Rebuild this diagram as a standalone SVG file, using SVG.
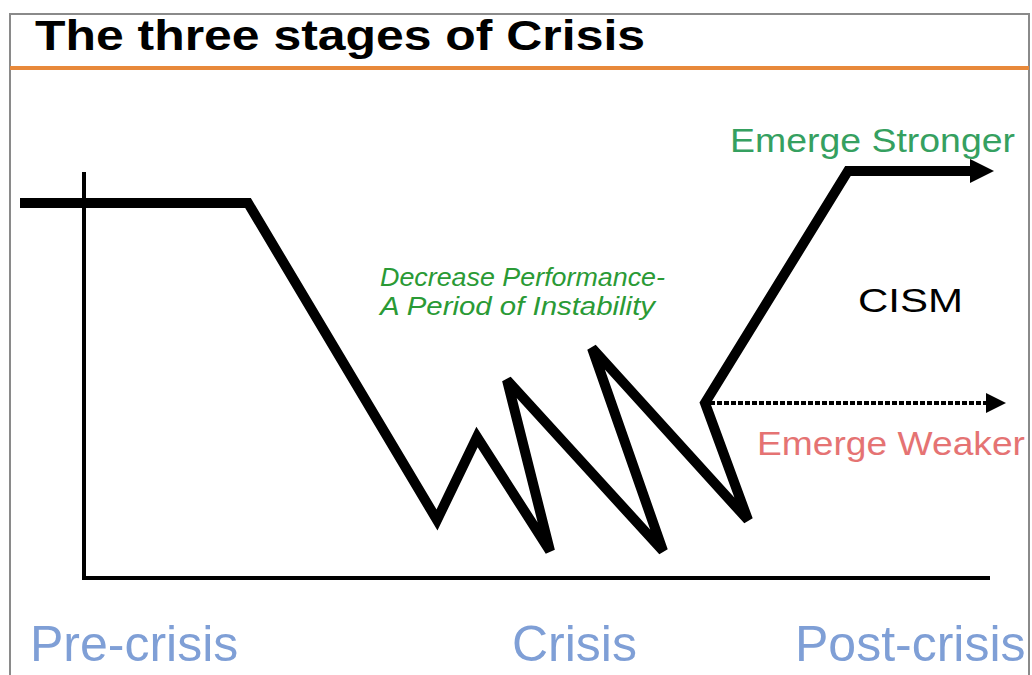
<svg xmlns="http://www.w3.org/2000/svg" width="1032" height="675" viewBox="0 0 1032 675">
<defs>
<style>
.sans{font-family:"Liberation Sans",Arial,sans-serif}
.stage{font-size:50px;fill:#7f9fd6}
.main{fill:none;stroke:#000;stroke-width:10;stroke-linejoin:miter;stroke-miterlimit:2.5}
.axis{fill:none;stroke:#000;stroke-width:4}
</style>
<marker id="ah" viewBox="0 0 10 10" refX="0" refY="5" markerWidth="2.4" markerHeight="2.4" orient="auto" markerUnits="strokeWidth">
<path d="M0,0 L10,5 L0,10 Z" fill="#000"/>
</marker>
<marker id="ahs" viewBox="0 0 10 10" refX="0" refY="5" markerWidth="5" markerHeight="5" orient="auto" markerUnits="strokeWidth">
<path d="M0,0 L10,5 L0,10 Z" fill="#000"/>
</marker>
</defs>
<rect width="1032" height="675" fill="#fff"/>
<path d="M10,675 V14 H1029 V675" fill="none" stroke="#8a8a8a" stroke-width="2"/>
<line x1="10" y1="68" x2="1029" y2="68" stroke="#e8893a" stroke-width="4"/>
<text id="title" class="sans" x="35" y="50" font-size="43" font-weight="bold" fill="#000" textLength="610" lengthAdjust="spacingAndGlyphs">The three stages of Crisis</text>
<g id="axes">
<line class="axis" x1="84" y1="172" x2="84" y2="580"/>
<line class="axis" x1="82" y1="578" x2="990" y2="578"/>
</g>
<g id="connectors">
<path id="performance" class="main" d="M20,203 H248 L437,520 L477,437 L550,551 L507,380 L663,551 L592,348 L748,520 L705,403 L848,171 H970" marker-end="url(#ah)"/>
<line id="weaker-path" x1="710" y1="403" x2="986" y2="403" stroke="#000" stroke-width="4" stroke-dasharray="5,2" marker-end="url(#ahs)"/>
</g>
<g id="label-stronger"><text class="sans" x="730" y="152" font-size="33" fill="#35a060" textLength="285" lengthAdjust="spacingAndGlyphs">Emerge Stronger</text></g>
<g id="label-cism"><text class="sans" x="858" y="312" font-size="34" fill="#000" textLength="105" lengthAdjust="spacingAndGlyphs">CISM</text></g>
<g id="label-weaker"><text class="sans" x="757" y="455" font-size="33" fill="#e57373" textLength="268" lengthAdjust="spacingAndGlyphs">Emerge Weaker</text></g>
<g id="label-decrease">
<text class="sans" x="380" y="286" font-size="25" font-style="italic" fill="#2a9a35" textLength="285" lengthAdjust="spacingAndGlyphs">Decrease Performance-</text>
<text class="sans" x="380" y="315" font-size="25" font-style="italic" fill="#2a9a35" textLength="275" lengthAdjust="spacingAndGlyphs">A Period of Instability</text>
</g>
<g id="stage-pre"><text class="sans stage" x="30" y="661">Pre-crisis</text></g>
<g id="stage-crisis"><text class="sans stage" x="512" y="661">Crisis</text></g>
<g id="stage-post"><text class="sans stage" x="795" y="661">Post-crisis</text></g>
</svg>
